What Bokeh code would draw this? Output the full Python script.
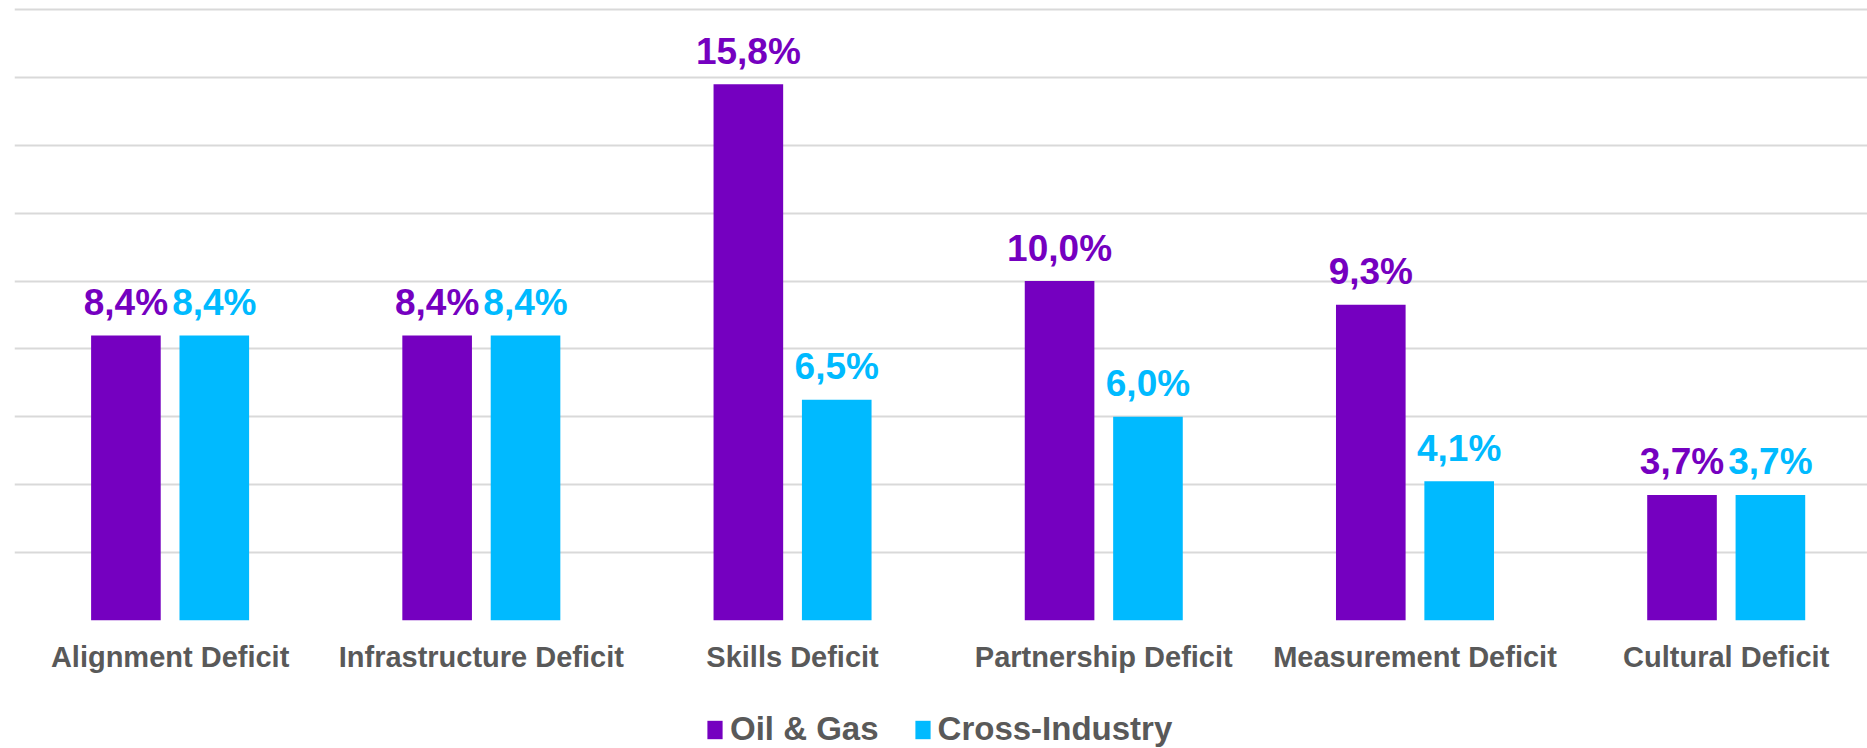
from bokeh.plotting import figure
from bokeh.layouts import column
from bokeh.models import Range1d, FixedTicker, Legend, LegendItem, ColumnDataSource
from bokeh.core.properties import value
from bokeh.embed import file_html
from bokeh.resources import INLINE

categories = ["Alignment Deficit", "Infrastructure Deficit", "Skills Deficit",
              "Partnership Deficit", "Measurement Deficit", "Cultural Deficit"]
oil_gas = [8.4, 8.4, 15.8, 10.0, 9.3, 3.7]
cross_industry = [8.4, 8.4, 6.5, 6.0, 4.1, 3.7]
series_names = ["Oil & Gas", "Cross-Industry"]
y_ticks = [0, 2, 4, 6, 8, 10, 12, 14, 16, 18]

PURPLE = "#7500C0"
CYAN = "#00BAFF"
GREY = "#595959"
GRID = "#D9D9D9"
FONT = "Liberation Sans"

p = figure(frame_width=1853, frame_height=613, output_backend="svg", toolbar_location=None,
           x_range=Range1d(0, 5.954), y_range=Range1d(0, 18.06),
           min_border_left=14, min_border_right=0, min_border_top=7, min_border_bottom=70)
p.outline_line_color = None
p.background_fill_color = "white"
p.border_fill_color = "white"

off = 0.142
w = 0.2237
centers = [i + 0.5 for i in range(len(categories))]

def fmt(v):
    return f"{v:.1f}".replace(".", ",") + "%"

src1 = ColumnDataSource(dict(x=[c - off for c in centers], top=oil_gas, lab=[fmt(v) for v in oil_gas]))
src2 = ColumnDataSource(dict(x=[c + off for c in centers], top=cross_industry, lab=[fmt(v) for v in cross_industry]))

r1 = p.vbar(x="x", top="top", width=w, bottom=0, source=src1, fill_color=PURPLE, line_color=None)
r2 = p.vbar(x="x", top="top", width=w, bottom=0, source=src2, fill_color=CYAN, line_color=None)

for src, col in ((src1, PURPLE), (src2, CYAN)):
    p.text(x="x", y="top", text="lab", source=src, text_color=col, text_font=value(FONT),
           text_font_style="bold", text_font_size="37px", text_align="center",
           text_baseline="alphabetic", y_offset=-33)

p.yaxis.visible = False
p.ygrid.ticker = FixedTicker(ticks=y_ticks)
p.ygrid.grid_line_color = GRID
p.ygrid.grid_line_width = 2
p.xgrid.visible = False

xa = p.xaxis[0]
xa.ticker = FixedTicker(ticks=centers)
xa.major_label_overrides = {c: name for c, name in zip(centers, categories)}
xa.major_label_text_font = FONT
xa.major_label_text_font_style = "bold"
xa.major_label_text_font_size = "29px"
xa.major_label_text_color = GREY
xa.major_label_standoff = 14
xa.major_tick_line_color = None
xa.minor_tick_line_color = None
xa.axis_line_color = None

# legend strip below the chart
lg = figure(frame_width=1867, frame_height=58, output_backend="svg", toolbar_location=None,
            x_range=Range1d(0, 1), y_range=Range1d(0, 1),
            min_border_left=0, min_border_right=0, min_border_top=0, min_border_bottom=0)
lg.outline_line_color = None
lg.axis.visible = False
lg.grid.visible = False
# legend-only renderers, placed outside the visible range
lr1 = lg.vbar(x=[-5], top=[-5], width=0.1, fill_color=PURPLE, line_color=None)
lr2 = lg.vbar(x=[-5], top=[-5], width=0.1, fill_color=CYAN, line_color=None)

legend = Legend(items=[LegendItem(label=series_names[0], renderers=[lr1]),
                       LegendItem(label=series_names[1], renderers=[lr2])],
                orientation="horizontal", location=(705, 0),
                label_text_font=FONT, label_text_font_style="bold",
                label_text_font_size="33px", label_text_color=GREY,
                glyph_width=19, glyph_height=23, label_standoff=6, spacing=34,
                padding=0, margin=0, border_line_alpha=0, background_fill_alpha=0)
lg.add_layout(legend)

layout = column(p, lg, spacing=0)
open("out.html", "w").write(file_html(layout, INLINE))
